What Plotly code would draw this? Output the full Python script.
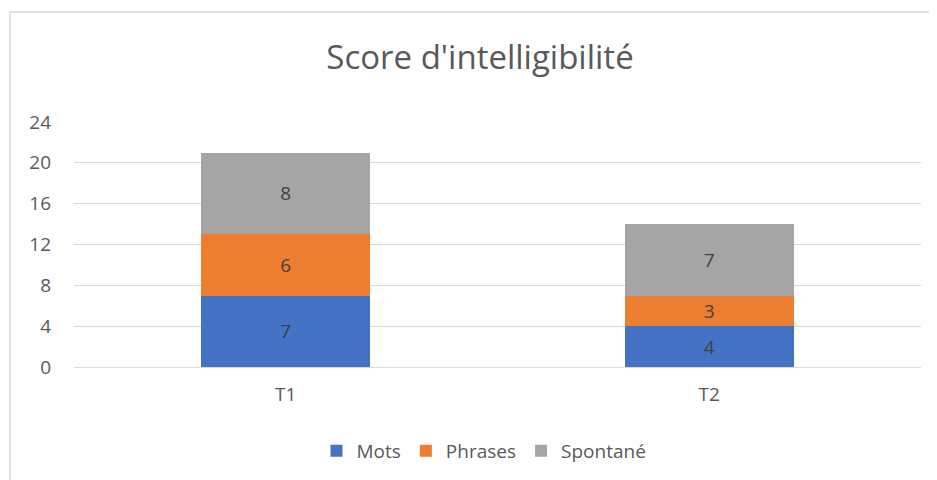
import plotly.graph_objects as go

categories = ["T1", "T2"]
mots = [7, 4]
phrases = [6, 3]
spontane = [8, 7]
series_names = ["Mots", "Phrases", "Spontané"]
colors = ["#4472C4", "#ED7D31", "#A5A5A5"]
y_ticks = [0, 4, 8, 12, 16, 20, 24]

FONT = "Open Sans, Lato, sans-serif"

fig = go.Figure()
for name, vals, col in zip(series_names, [mots, phrases, spontane], colors):
    fig.add_trace(go.Bar(
        x=categories, y=vals, name=name, marker=dict(color=col, line=dict(width=0)),
        text=vals, textposition="inside", insidetextanchor="middle", textangle=0,
        constraintext="none",
        textfont=dict(size=19, color="#404040", family=FONT),
    ))

# page is offset by the 8px body margin; compensate
OFF = 8
W, H = 937, 480
L, R = 74 - OFF, 937 - (921 - OFF)
T = 122 - OFF
B = H - (367 - OFF)
pw, ph = W - L - R, H - T - B

fig.update_layout(
    barmode="stack",
    bargap=0.6,
    width=W, height=H,
    margin=dict(l=L, r=R, t=T, b=B, autoexpand=False),
    paper_bgcolor="white", plot_bgcolor="white",
    font=dict(family=FONT, color="#595959", size=18),
    title=dict(text="Score d'intelligibilité", xref="container", x=(480 - OFF) / W,
               xanchor="center", yref="container", y=1 - (57 - OFF) / H, yanchor="middle",
               font=dict(size=33, color="#595959", family=FONT)),
    xaxis=dict(showgrid=False, showline=False, ticks="", tickfont=dict(size=19),
               ticklabelstandoff=14),
    yaxis=dict(range=[0, 24], tickvals=y_ticks, showgrid=True, gridcolor="#D9D9D9",
               gridwidth=1, zeroline=True, zerolinecolor="#D9D9D9", zerolinewidth=1,
               ticks="", ticklabelstandoff=22, tickfont=dict(size=19)),
    legend=dict(orientation="h", x=(484 - OFF - L) / pw, xanchor="center",
                y=-(451 - 367) / ph, yanchor="middle",
                font=dict(size=19, color="#595959"), traceorder="normal"),
    showlegend=True,
)

# chart frame
x0 = (10 - OFF - L) / pw
y1 = ((367 - OFF) - (12 - OFF)) / ph
fig.add_shape(type="rect", xref="paper", yref="paper", x0=x0, x1=1.2, y0=-1.0, y1=y1,
              line=dict(color="#D9D9D9", width=1.5), fillcolor="rgba(0,0,0,0)", layer="below")

fig.write_html("out.html")
